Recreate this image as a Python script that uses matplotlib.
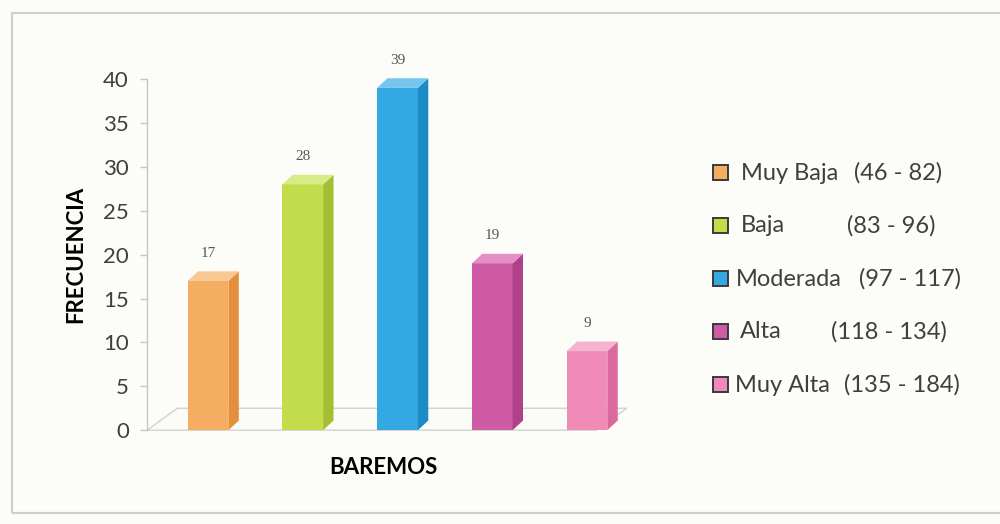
import numpy as np
import matplotlib
matplotlib.use("Agg")
import matplotlib.pyplot as plt
from matplotlib.patches import Polygon, Rectangle

# frequency of cases per scoring band
CATEGORIES = ["Muy Baja", "Baja", "Moderada", "Alta", "Muy Alta"]
RANGES = ["(46 - 82)", "(83 - 96)", "(97 - 117)", "(118 - 134)", "(135 - 184)"]
FRECUENCIA = [17, 28, 39, 19, 9]
YTICKS = [0, 5, 10, 15, 20, 25, 30, 35, 40]

FRONT = ["#f5ad62", "#c3dc4c", "#33a8e2", "#d05ba5", "#f08ab6"]
SIDE = ["#e38f3c", "#a5bf34", "#1d8bc6", "#b04188", "#d96a9b"]
TOP = ["#f9c994", "#d8eb86", "#74c6ef", "#e38fc5", "#f6b3cf"]
INK = "#3f3f3f"
EDGE = "#c6c6c6"
BG = "#fcfcf8"

plt.rcParams.update({"font.family": ["Lato", "DejaVu Sans"], "font.size": 16,
                     "text.color": INK, "xtick.color": INK, "ytick.color": INK})

fig = plt.figure(figsize=(10, 5.24), dpi=100, facecolor=BG)
# outer chart frame, open on the right
fig.patches.append(Rectangle((0.012, 0.021), 1.1, 0.955, transform=fig.transFigure,
                             fill=False, edgecolor="#cfcfcb", lw=1.6))

ax = fig.add_axes([0.147, 0.179, 0.493, 0.670])
ax.set_facecolor("none")
ax.set_xlim(-0.644, 4.56)
ax.set_ylim(0, 40)

w = 0.43            # front face width
dx, dy = 0.11, 1.1  # bar depth offset (data units)
fx, fy = 0.32, 2.5  # floor depth offset

x = np.arange(len(FRECUENCIA))

# floor plane
floor = Polygon([(-0.644, 0), (4.1, 0), (4.1 + fx, fy), (-0.644 + fx, fy)],
                closed=True, facecolor="#fbfbf7", edgecolor="#d2d2cf", lw=1.0,
                zorder=1, clip_on=False)
ax.add_patch(floor)

for i, v in enumerate(FRECUENCIA):
    xl, xr = x[i] - w / 2, x[i] + w / 2
    ax.bar(x[i], v, width=w, color=FRONT[i], edgecolor="none", zorder=3)
    ax.add_patch(Polygon([(xr, 0), (xr + dx, dy), (xr + dx, v + dy), (xr, v)],
                         closed=True, facecolor=SIDE[i], edgecolor="none", zorder=3))
    ax.add_patch(Polygon([(xl, v), (xl + dx, v + dy), (xr + dx, v + dy), (xr, v)],
                         closed=True, facecolor=TOP[i], edgecolor="none", zorder=3,
                         clip_on=False))
    ax.annotate(str(v), xy=(x[i], v), xytext=(0, 20), textcoords="offset points",
                ha="center", va="center", fontsize=11, color="#555555",
                family=["Liberation Serif", "DejaVu Serif"])

ax.set_yticks(YTICKS)
ax.set_xticks([])
ax.tick_params(axis="y", length=5, width=1, color=EDGE, pad=8, labelsize=16)
for s in ("top", "right", "bottom"):
    ax.spines[s].set_visible(False)
ax.spines["left"].set_color(EDGE)
ax.spines["left"].set_linewidth(1)

ax.set_ylabel("FRECUENCIA", fontweight="bold", fontsize=16, labelpad=12)
ax.set_xlabel("BAREMOS", fontweight="bold", fontsize=16)
ax.xaxis.set_label_coords(0.479, -0.075)

# legend drawn row by row so the ranges line up as in the source sheet
row_y = [173, 226, 279, 332, 385]
name_x = [741, 741, 736, 740, 735]
range_x = [854, 847, 859, 831, 844]
for i, (cat, rng) in enumerate(zip(CATEGORIES, RANGES)):
    yf = 1 - row_y[i] / 524
    fig.patches.append(Rectangle((713 / 1000, yf - 7 / 524), 15 / 1000, 15 / 524,
                                 transform=fig.transFigure, facecolor=FRONT[i],
                                 edgecolor="#3a3a3a", lw=1.4))
    fig.text(name_x[i] / 1000, yf, cat, ha="left", va="center", fontsize=17)
    fig.text(range_x[i] / 1000, yf, rng, ha="left", va="center", fontsize=17)

fig.savefig("out.png", dpi=100, facecolor=BG)
